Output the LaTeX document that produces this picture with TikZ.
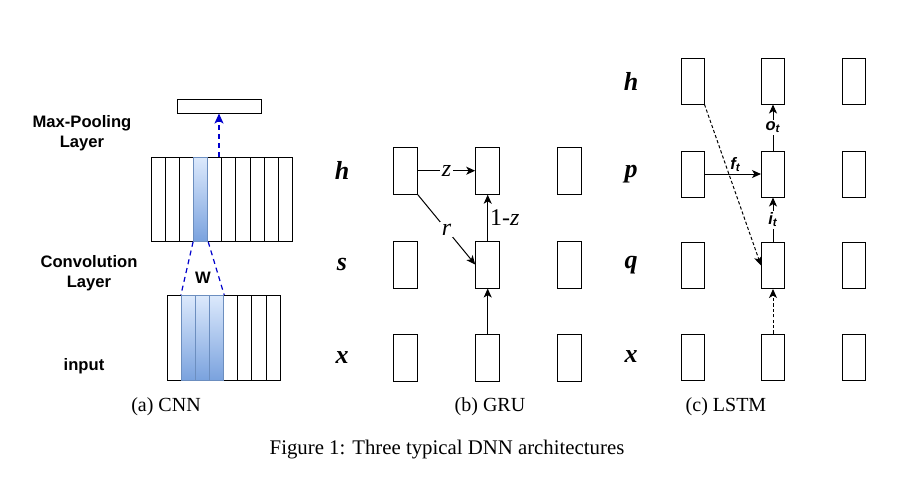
\documentclass[tikz,border=0pt]{standalone}
\usepackage{fontspec}
\setmainfont{Liberation Serif}
\newfontfamily\sansbold{Liberation Sans}
\usetikzlibrary{positioning}
\usetikzlibrary{arrows.meta}
\usetikzlibrary{calc}
\definecolor{convBlue}{RGB}{0,0,204}
\definecolor{shadeTop}{RGB}{220,233,252}
\definecolor{shadeBot}{RGB}{122,162,222}
\definecolor{shadeEdge}{RGB}{108,142,191}

\begin{document}
\begin{tikzpicture}[x=0.5pt,y=-0.5pt,
  cell/.style={draw, line width=0.5pt, inner sep=0pt, minimum width=11.5pt, minimum height=23pt},
  strip/.style={draw, line width=0.5pt, inner sep=0pt, minimum width=7.05pt, minimum height=42pt},
  hot/.style={top color=shadeTop, bottom color=shadeBot, draw=shadeEdge},
  arr/.style={line width=0.5pt, -{Stealth[length=4.5pt,width=4pt,inset=1.2pt]}},
  fine/.style={dash pattern=on 1.6pt off 1.1pt},
  convdash/.style={convBlue, line width=0.6pt, dash pattern=on 2.5pt off 2pt},
  sidelabel/.style={font=\sansbold\bfseries\fontsize{8.3}{10}\selectfont, align=center},
  var/.style={font=\fontsize{13}{14}\selectfont\bfseries\itshape},
  gate/.style={font=\fontsize{12}{13}\selectfont\itshape, fill=white, inner sep=1pt},
  lgate/.style={font=\sansbold\fontsize{8.3}{9}\selectfont\bfseries\itshape, fill=white, inner sep=1pt},
  subcap/.style={font=\fontsize{10}{12}\selectfont}]
\useasboundingbox (0,0) rectangle (900,484);

% CNN
\node[strip, minimum width=42pt, minimum height=7pt] (pool) at (219,106) {};
\foreach \i in {0,...,9}
  \node[strip] (c\i) at (158.35+14.1*\i,199.3) {};
\node[strip,hot] (ch) at (c3) {};
\foreach \i in {0,...,7}
  \node[strip, minimum height=42.3pt] (in\i) at (174.35+14.1*\i,337.7) {};
\foreach \i in {1,2,3}
  \node[strip, minimum height=42.3pt, hot] (ih\i) at (in\i) {};
\coordinate (ctop) at (pool.south |- c5.north);
\draw[convdash, -{Stealth[length=5pt,width=4.5pt,inset=1.2pt]}] (ctop) -- (pool.south);
\draw[convdash] (ch.south west) -- (ih1.north west);
\draw[convdash] (ch.south east) -- (ih3.north east);
\node[sidelabel] (wlab) at (203,277.7) {W};
\node[sidelabel] (poolab) at (82,133) {Max-Pooling\\Layer};
\node[sidelabel] (convlab) at (89,273) {Convolution\\Layer};
\node[sidelabel] (inlab) at (84,366) {input};

% GRU
\foreach \r/\y in {h/170.7,s/264.5,x/357.8}{
  \node[var] at (342,\y) {\r};
  \foreach \c/\x in {1/405.3,2/487.7,3/569.3}
    \node[cell, minimum width=12pt, minimum height=23.5pt] (g\r\c) at (\x,\y) {};
}
\draw[arr] (gh1) -- node[gate] {z} (gh2);
\draw[arr] (gh1.south east) -- node[gate] {r} (gs2.west);
\draw[arr] (gs2) -- node[gate, fill=none, right] {{\upshape 1-}z} (gh2);
\draw[arr] (gx2) -- (gs2);

% LSTM
\foreach \r/\y in {h/81,p/174,q/265.5,x/357}{
  \node[var] at (631,\y) {\r};
  \foreach \c/\x in {1/692.5,2/773,3/853.5}
    \node[cell] (l\r\c) at (\x,\y) {};
}
\draw[arr, fine] (lh1.south east) -- (lq2.west);
\draw[arr] (lp1) -- node[lgate, fill=none, above, pos=0.55] {f\textsubscript{t}} (lp2);
\draw[arr] (lp2) -- node[lgate] {o\textsubscript{t}} (lh2);
\draw[arr] (lq2) -- node[lgate] {i\textsubscript{t}} (lp2);
\draw[arr, fine] (lx2) -- (lq2);

% captions
\node[subcap] (capa) at (166,407) {(a) CNN};
\node[subcap] (capb) at (490,407) {(b) GRU};
\node[subcap] (capc) at (726,407) {(c) LSTM};
\node[subcap, font=\fontsize{10.4}{12}\selectfont] (figcap) at (447,450) {Figure 1: Three typical DNN architectures};
\end{tikzpicture}
\end{document}
